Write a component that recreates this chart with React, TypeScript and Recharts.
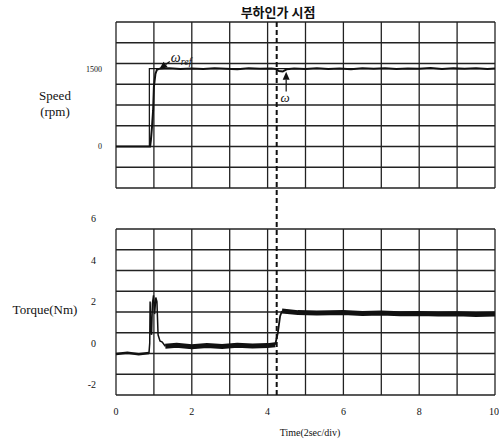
import React from 'react';
import { LineChart, Line, XAxis, YAxis, ReferenceLine } from 'recharts';

// time axis (2 sec/div shown as 0..10)
const timeTicks = [0, 2, 4, 6, 8, 10];
const timeGrid = [0, 1, 2, 3, 4, 5, 6, 7, 8, 9, 10];
const loadTime = 4.24;

// speed panel
const speedTicks = [0, 1500];
const speedGrid = [-800, -400, 0, 400, 800, 1200, 1600, 2000, 2400];
const speedRefT = [0, 0.88, 0.88, 10];
const speedRefV = [0, 0, 1500, 1500];
const speedT = [0, 0.9, 0.92, 0.95, 0.98, 1.0, 1.04, 1.08, 1.15, 1.4, 1.7, 2.0, 2.3, 2.6, 2.9, 3.2, 3.5, 3.8, 4.1, 4.22, 4.3, 4.4, 4.5, 4.7, 5.0, 5.3, 5.6, 5.9, 6.2, 6.5, 6.8, 7.1, 7.4, 7.7, 8.0, 8.3, 8.6, 8.9, 9.2, 9.5, 9.8, 10];
const speedV = [0, 0, 120, 380, 700, 1150, 1400, 1480, 1500, 1510, 1495, 1505, 1492, 1508, 1498, 1490, 1506, 1497, 1502, 1495, 1455, 1445, 1488, 1505, 1494, 1508, 1496, 1503, 1490, 1507, 1499, 1510, 1493, 1504, 1497, 1511, 1492, 1506, 1498, 1509, 1495, 1502];

// torque panel
const torqueTicks = [-2, 0, 2, 4, 6];
const torqueGrid = [-2, -1, 0, 1, 2, 3, 4, 5, 6];
const idleT = [0, 0.3, 0.6, 0.87];
const idleV = [-0.02, 0.03, -0.03, 0.02];
const startT = [0.87, 0.89, 0.9, 0.92, 0.94, 0.96, 0.99, 1.02, 1.05, 1.08, 1.11, 1.16, 1.22, 1.3];
const startV = [0.02, 0.5, 2.5, 1.2, 0.9, 2.4, 2.8, 1.9, 2.7, 2.5, 0.9, 0.6, 0.55, 0.35];
const noLoadT = [1.3, 1.6, 2.0, 2.4, 2.8, 3.2, 3.6, 4.0, 4.2];
const noLoadV = [0.35, 0.4, 0.32, 0.38, 0.34, 0.4, 0.36, 0.38, 0.42];
const stepT = [4.2, 4.27, 4.33, 4.38];
const stepV = [0.42, 1.0, 1.8, 2.05];
const loadT = [4.38, 4.8, 5.3, 6.0, 6.5, 7.0, 7.5, 8.0, 8.5, 9.0, 9.5, 10];
const loadV = [2.05, 1.97, 1.95, 1.97, 1.93, 1.95, 1.92, 1.93, 1.9, 1.92, 1.88, 1.9];

const zip = (t: number[], v: number[]) => t.map((x, i) => ({ t: x, v: v[i] }));

const serif = "'Liberation Serif', 'DejaVu Serif', serif";
const ink = '#111';
const gridColor = '#222';

const TorqueTick = ({ x, y, payload }: any) => (
  <text x={x} y={y - 9} textAnchor="end" dominantBaseline="middle" fontSize={10} fontFamily={serif} fill={ink}>
    {payload.value}
  </text>
);

const arrow = (kind: 'ref' | 'w') => (p: any) => {
  const { x1, y1, x2, y2 } = p;
  const a = Math.atan2(y2 - y1, x2 - x1);
  const L = 8, W = 3.5;
  const bx = x2 - L * Math.cos(a), by = y2 - L * Math.sin(a);
  const head = `${x2},${y2} ${bx + W * Math.sin(a)},${by - W * Math.cos(a)} ${bx - W * Math.sin(a)},${by + W * Math.cos(a)}`;
  return (
    <g>
      <line x1={x1} y1={y1} x2={bx} y2={by} stroke={ink} strokeWidth={1.2} />
      <polygon points={head} fill={ink} />
      {kind === 'ref' ? (
        <text x={x1 + 1} y={y1 + 1} fontFamily={serif} fontStyle="italic" fill={ink} fontSize={14}>
          ω<tspan fontSize={10} dy={3}>ref</tspan>
        </text>
      ) : (
        <text x={x1 - 1} y={y1 + 10} textAnchor="middle" fontFamily={serif} fontStyle="italic" fill={ink} fontSize={13}>
          ω
        </text>
      )}
    </g>
  );
};

const gridX = timeGrid.map((t) => (
  <ReferenceLine key={'gx' + t} x={t} stroke={gridColor} strokeWidth={1.3} />
));

const App = () => {
  return (
    <div style={{ position: 'absolute', left: 0, top: 0, width: 499, height: 442, background: '#fff' }}>
      <div style={{ position: 'absolute', left: 278, top: 4, transform: 'translateX(-50%)', fontFamily: "'Noto Sans CJK KR'", fontWeight: 700, fontSize: 13, whiteSpace: 'nowrap', color: ink, lineHeight: '16px' }}>
        부하인가 시점
      </div>
      <div style={{ position: 'absolute', left: 55, top: 88, transform: 'translateX(-50%)', fontFamily: serif, fontSize: 13, textAlign: 'center', lineHeight: '16px', color: ink }}>
        Speed<br />(rpm)
      </div>
      <div style={{ position: 'absolute', left: 45, top: 302, transform: 'translateX(-50%)', fontFamily: serif, fontSize: 13, whiteSpace: 'nowrap', lineHeight: '16px', color: ink }}>
        Torque(Nm)
      </div>
      <div style={{ position: 'absolute', left: 310, top: 427, transform: 'translateX(-50%)', fontFamily: serif, fontSize: 10, whiteSpace: 'nowrap', lineHeight: '12px', color: ink }}>
        Time(2sec/div)
      </div>

      <div style={{ position: 'absolute', left: 0, top: 0 }}>
        <LineChart width={499} height={229} margin={{ top: 22, right: 4, bottom: 41, left: 86 }}>
          <XAxis type="number" dataKey="t" domain={[0, 10]} ticks={timeTicks} hide />
          <YAxis
            type="number"
            domain={[-800, 2400]}
            ticks={speedTicks}
            width={30}
            axisLine={false}
            tickLine={false}
            tickSize={0}
            tickMargin={14}
            tick={{ fontSize: 8, fontFamily: serif, fill: ink }}
          />
          {gridX}
          {speedGrid.map((v) => (
            <ReferenceLine key={'gy' + v} y={v} stroke={gridColor} strokeWidth={1.3} />
          ))}
          <Line data={zip(speedRefT, speedRefV)} dataKey="v" stroke={ink} strokeWidth={1.2} dot={false} isAnimationActive={false} />
          <Line data={zip(speedT, speedV)} dataKey="v" stroke={ink} strokeWidth={2} dot={false} isAnimationActive={false} />
          <ReferenceLine
            segment={[{ x: loadTime, y: 2400 }, { x: loadTime, y: -1590 }]}
            ifOverflow="visible"
            stroke={ink}
            strokeWidth={2}
            strokeDasharray="5 3"
          />
          <ReferenceLine segment={[{ x: 1.42, y: 1640 }, { x: 1.14, y: 1490 }]} ifOverflow="visible" shape={arrow('ref')} />
          <ReferenceLine segment={[{ x: 4.49, y: 1060 }, { x: 4.49, y: 1440 }]} ifOverflow="visible" shape={arrow('w')} />
        </LineChart>
      </div>

      <div style={{ position: 'absolute', left: 0, top: 209 }}>
        <LineChart width={499} height={233} margin={{ top: 20, right: 4, bottom: 0, left: 86 }}>
          <XAxis
            type="number"
            dataKey="t"
            domain={[0, 10]}
            ticks={timeTicks}
            height={47}
            axisLine={false}
            tickLine={false}
            tickSize={0}
            tickMargin={13}
            tick={{ fontSize: 10, fontFamily: serif, fill: ink }}
          />
          <YAxis
            type="number"
            domain={[-2, 6]}
            ticks={torqueTicks}
            width={30}
            axisLine={false}
            tickLine={false}
            tick={<TorqueTick />}
            tickSize={0}
            tickMargin={20}
          />
          {gridX}
          {torqueGrid.map((v) => (
            <ReferenceLine key={'gy' + v} y={v} stroke={gridColor} strokeWidth={1.3} />
          ))}
          <ReferenceLine x={loadTime} stroke={ink} strokeWidth={2} strokeDasharray="5 3" />
          <Line data={zip(idleT, idleV)} dataKey="v" stroke={ink} strokeWidth={2.5} dot={false} isAnimationActive={false} />
          <Line data={zip(startT, startV)} dataKey="v" stroke={ink} strokeWidth={1.5} dot={false} isAnimationActive={false} />
          <Line data={zip(noLoadT, noLoadV)} dataKey="v" stroke={ink} strokeWidth={5} dot={false} isAnimationActive={false} />
          <Line data={zip(stepT, stepV)} dataKey="v" stroke={ink} strokeWidth={1.8} dot={false} isAnimationActive={false} />
          <Line data={zip(loadT, loadV)} dataKey="v" stroke={ink} strokeWidth={5} dot={false} isAnimationActive={false} />
        </LineChart>
      </div>
    </div>
  );
};

export default App;
